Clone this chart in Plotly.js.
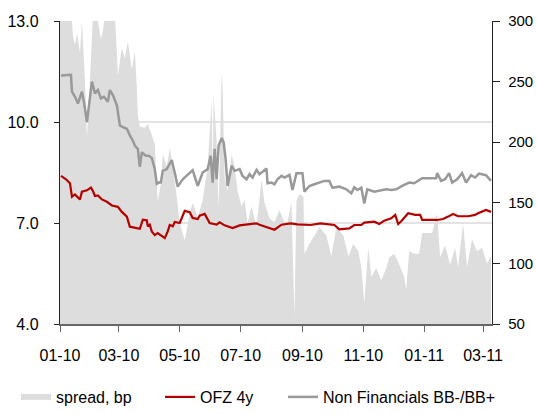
<!DOCTYPE html>
<html>
<head>
<meta charset="utf-8">
<script src="https://cdn.plot.ly/plotly-3.0.1.min.js"></script>
<style>html,body{margin:0;padding:0;background:#fff;}#chart{width:537px;height:414px;}</style>
</head>
<body>
<div id="chart"></div>
<script>
// Spread, bp (right axis)
var spreadDates = ['2010-01-01','2010-01-03','2010-01-07','2010-01-11','2010-01-13','2010-01-14','2010-01-16','2010-01-18','2010-01-21','2010-01-23','2010-01-26','2010-01-28','2010-01-31','2010-02-03','2010-02-07','2010-02-08','2010-02-11','2010-02-13','2010-02-15','2010-02-18','2010-02-22','2010-02-25','2010-02-27','2010-02-28','2010-03-04','2010-03-07','2010-03-10','2010-03-14','2010-03-17','2010-03-19','2010-03-20','2010-03-22','2010-03-27','2010-03-30','2010-04-03','2010-04-06','2010-04-09','2010-04-12','2010-04-14','2010-04-18','2010-04-21','2010-04-24','2010-04-28','2010-05-01','2010-05-06','2010-05-11','2010-05-14','2010-05-19','2010-05-24','2010-05-29','2010-06-02','2010-06-03','2010-06-04','2010-06-07','2010-06-09','2010-06-12','2010-06-13','2010-06-15','2010-06-18','2010-06-22','2010-06-25','2010-06-28','2010-07-02','2010-07-05','2010-07-08','2010-07-12','2010-07-17','2010-07-22','2010-07-25','2010-07-30','2010-08-04','2010-08-09','2010-08-16','2010-08-21','2010-08-24','2010-08-26','2010-08-29','2010-09-02','2010-09-03','2010-09-08','2010-09-13','2010-09-18','2010-09-25','2010-09-30','2010-10-05','2010-10-12','2010-10-17','2010-10-22','2010-10-27','2010-10-30','2010-11-02','2010-11-06','2010-11-09','2010-11-14','2010-11-19','2010-11-24','2010-11-27','2010-12-02','2010-12-07','2010-12-12','2010-12-14','2010-12-17','2010-12-22','2010-12-27','2010-12-30','2011-01-09','2011-01-14','2011-01-17','2011-01-22','2011-01-27','2011-02-01','2011-02-04','2011-02-09','2011-02-13','2011-02-18','2011-02-23','2011-02-28','2011-03-05','2011-03-09'];
var spreadBp = [310,320,310,305,300,288,280,290,274,300,250,203,250,305,310,300,285,292,305,310,310,305,274,255,278,269,283,260,275,245,222,213,212,215,206,198,151,165,190,180,195,180,155,133,119,141,150,138,152,180,235,175,240,200,145,257,245,171,160,190,180,160,147,153,133,147,130,169,150,137,134,144,130,150,56,152,157,155,108,116,123,130,123,106,130,123,106,116,110,97,67,113,89,96,86,96,105,108,99,89,78,110,108,108,125,125,141,105,115,99,113,97,133,97,120,110,113,100,106];

// OFZ 4y yield, % (left axis)
var ofzDates = ['2010-01-02','2010-01-07','2010-01-11','2010-01-13','2010-01-16','2010-01-19','2010-01-21','2010-01-23','2010-01-28','2010-02-01','2010-02-03','2010-02-05','2010-02-08','2010-02-12','2010-02-17','2010-02-22','2010-02-28','2010-03-04','2010-03-09','2010-03-12','2010-03-17','2010-03-22','2010-03-25','2010-03-29','2010-03-30','2010-04-01','2010-04-03','2010-04-06','2010-04-09','2010-04-13','2010-04-16','2010-04-19','2010-04-21','2010-04-24','2010-04-26','2010-05-01','2010-05-06','2010-05-11','2010-05-14','2010-05-19','2010-05-21','2010-05-26','2010-05-31','2010-06-07','2010-06-10','2010-06-15','2010-06-19','2010-06-23','2010-06-30','2010-07-05','2010-07-10','2010-07-17','2010-07-20','2010-07-27','2010-07-30','2010-08-04','2010-08-11','2010-08-20','2010-08-27','2010-09-04','2010-09-09','2010-09-19','2010-09-26','2010-10-03','2010-10-08','2010-10-18','2010-10-23','2010-10-30','2010-11-02','2010-11-12','2010-11-17','2010-11-22','2010-11-29','2010-12-03','2010-12-06','2010-12-09','2010-12-16','2010-12-23','2010-12-28','2010-12-30','2011-01-14','2011-01-20','2011-01-25','2011-01-30','2011-02-04','2011-02-14','2011-02-21','2011-02-24','2011-03-04','2011-03-09'];
var ofzYield = [8.4,8.3,8.18,7.78,7.85,7.75,7.7,7.93,7.97,8.05,7.95,7.8,7.82,7.7,7.63,7.52,7.48,7.33,7.19,6.89,6.85,6.83,7.1,7.08,6.9,6.95,6.75,6.64,6.7,6.6,6.55,6.75,6.94,6.9,7.03,7.0,7.36,7.32,7.15,7.12,7.22,7.27,7.0,6.95,7.02,6.93,6.9,6.85,6.93,6.95,6.96,6.99,6.95,6.88,6.85,6.8,6.95,6.99,6.96,6.96,6.94,6.99,6.96,6.94,6.81,6.84,6.94,6.94,7.01,7.04,6.97,7.07,7.14,7.24,6.97,7.05,7.29,7.24,7.24,7.09,7.09,7.12,7.19,7.27,7.2,7.2,7.24,7.29,7.39,7.33];

// Non Financials BB-/BB+ yield, % (left axis)
var nfDates = ['2010-01-02','2010-01-12','2010-01-13','2010-01-16','2010-01-19','2010-01-23','2010-01-25','2010-01-28','2010-02-02','2010-02-05','2010-02-08','2010-02-11','2010-02-14','2010-02-18','2010-02-20','2010-02-23','2010-02-27','2010-03-02','2010-03-05','2010-03-09','2010-03-12','2010-03-15','2010-03-17','2010-03-20','2010-03-22','2010-03-24','2010-03-28','2010-03-31','2010-04-03','2010-04-06','2010-04-08','2010-04-10','2010-04-12','2010-04-14','2010-04-18','2010-04-23','2010-04-26','2010-04-29','2010-05-04','2010-05-09','2010-05-14','2010-05-19','2010-05-24','2010-05-29','2010-06-01','2010-06-03','2010-06-05','2010-06-07','2010-06-09','2010-06-12','2010-06-14','2010-06-16','2010-06-18','2010-06-22','2010-06-25','2010-06-30','2010-07-03','2010-07-07','2010-07-10','2010-07-13','2010-07-17','2010-07-20','2010-07-24','2010-07-27','2010-07-28','2010-08-01','2010-08-04','2010-08-07','2010-08-11','2010-08-14','2010-08-19','2010-08-22','2010-08-26','2010-09-01','2010-09-03','2010-09-08','2010-09-13','2010-09-18','2010-09-23','2010-09-28','2010-10-01','2010-10-08','2010-10-15','2010-10-20','2010-10-23','2010-10-26','2010-10-30','2010-11-02','2010-11-05','2010-11-12','2010-11-18','2010-11-24','2010-11-29','2010-12-04','2010-12-10','2010-12-17','2010-12-22','2010-12-30','2011-01-06','2011-01-13','2011-01-14','2011-01-18','2011-01-22','2011-01-26','2011-01-29','2011-02-03','2011-02-08','2011-02-12','2011-02-17','2011-02-21','2011-02-25','2011-03-04','2011-03-09'];
var nfYield = [11.38,11.4,10.9,10.75,10.55,10.9,10.6,10.0,11.2,10.85,10.95,10.7,10.75,10.6,10.95,10.8,10.5,9.9,9.85,9.8,9.6,9.45,9.3,9.2,8.67,9.1,9.0,9.0,8.93,8.6,8.16,8.2,8.2,8.55,8.6,8.87,8.5,8.08,8.3,8.45,8.57,8.1,8.5,8.6,9.0,8.2,9.2,8.3,9.3,9.52,9.4,8.9,8.1,8.7,8.55,8.6,8.4,8.3,8.45,8.35,8.58,8.45,8.55,8.62,8.18,8.2,8.15,8.3,8.4,8.35,8.43,7.98,8.48,8.48,7.93,8.1,8.15,8.2,8.25,8.25,8.05,8.08,8.0,7.88,8.06,7.98,8.05,7.58,8.0,7.93,7.97,8.0,7.98,8.0,8.1,8.2,8.18,8.33,8.33,8.33,8.48,8.25,8.3,8.48,8.2,8.3,8.48,8.2,8.42,8.35,8.47,8.42,8.25];

var tickDates = ['2010-01-01','2010-03-01','2010-05-01','2010-07-01','2010-09-01','2010-11-01','2011-01-01','2011-03-01'];
var tickLabels = ['01-10','03-10','05-10','07-10','09-10','11-10','01-11','03-11'];

var FONT = 'Arial, "Liberation Sans", sans-serif';

var traces = [
  {x: spreadDates, y: spreadBp, name: 'spread, bp', type: 'scatter', mode: 'none',
   fill: 'tozeroy', fillcolor: '#dddddd', yaxis: 'y', legend: 'legend', hoverinfo: 'skip'},
  {x: ofzDates, y: ofzYield, name: 'OFZ 4y', type: 'scatter', mode: 'lines',
   line: {color: '#b50000', width: 2.2}, yaxis: 'y2', legend: 'legend2'},
  {x: nfDates, y: nfYield, name: 'Non Financials BB-/BB+', type: 'scatter', mode: 'lines',
   line: {color: '#999999', width: 2.5}, yaxis: 'y2', legend: 'legend3'}
];

function leg(xpx) {
  return {orientation: 'h', xref: 'container', yref: 'container',
          x: xpx / 537, xanchor: 'left', y: (414 - 397) / 414, yanchor: 'middle',
          font: {family: FONT, size: 16, color: '#000'}, bgcolor: 'rgba(0,0,0,0)',
          borderwidth: 0};
}

var layout = {
  width: 537, height: 414,
  margin: {l: 60, r: 45, t: 21, b: 90},
  paper_bgcolor: '#ffffff', plot_bgcolor: 'rgba(0,0,0,0)',
  font: {family: FONT, size: 16, color: '#000'},
  showlegend: true,
  legend: leg(16),
  legend2: leg(160),
  legend3: leg(283),
  xaxis: {type: 'date', range: ['2010-01-01', '2011-03-10'],
          tickvals: tickDates, ticktext: tickLabels,
          ticks: 'outside', ticklen: 6, tickcolor: '#666', tickwidth: 1,
          showline: true, linecolor: '#666', linewidth: 1.5,
          showgrid: false, zeroline: false, ticklabelstandoff: 10,
          tickfont: {family: FONT, size: 16, color: '#000'}},
  yaxis: {range: [50, 300], side: 'right', tickvals: [50,100,150,200,250,300],
          ticks: 'outside', ticklen: 7, tickcolor: '#222',
          showline: true, linecolor: '#222', linewidth: 1.2,
          showgrid: false, zeroline: false, ticklabelstandoff: 5,
          automargin: false,
          tickfont: {family: FONT, size: 15, color: '#000'}},
  yaxis2: {range: [4, 13], overlaying: 'y', side: 'left', tickvals: [4,7,10,13],
           tickformat: '.1f',
           ticks: 'outside', ticklen: 5, tickcolor: '#222',
           showline: true, linecolor: '#222', linewidth: 1.2,
           showgrid: true, gridcolor: '#e3e3e3', gridwidth: 1.5, zeroline: false,
           ticklabelstandoff: 12,
           tickfont: {family: FONT, size: 16, color: '#000'}}
};

Plotly.newPlot('chart', traces, layout, {displayModeBar: false, staticPlot: true});
</script>
</body>
</html>
